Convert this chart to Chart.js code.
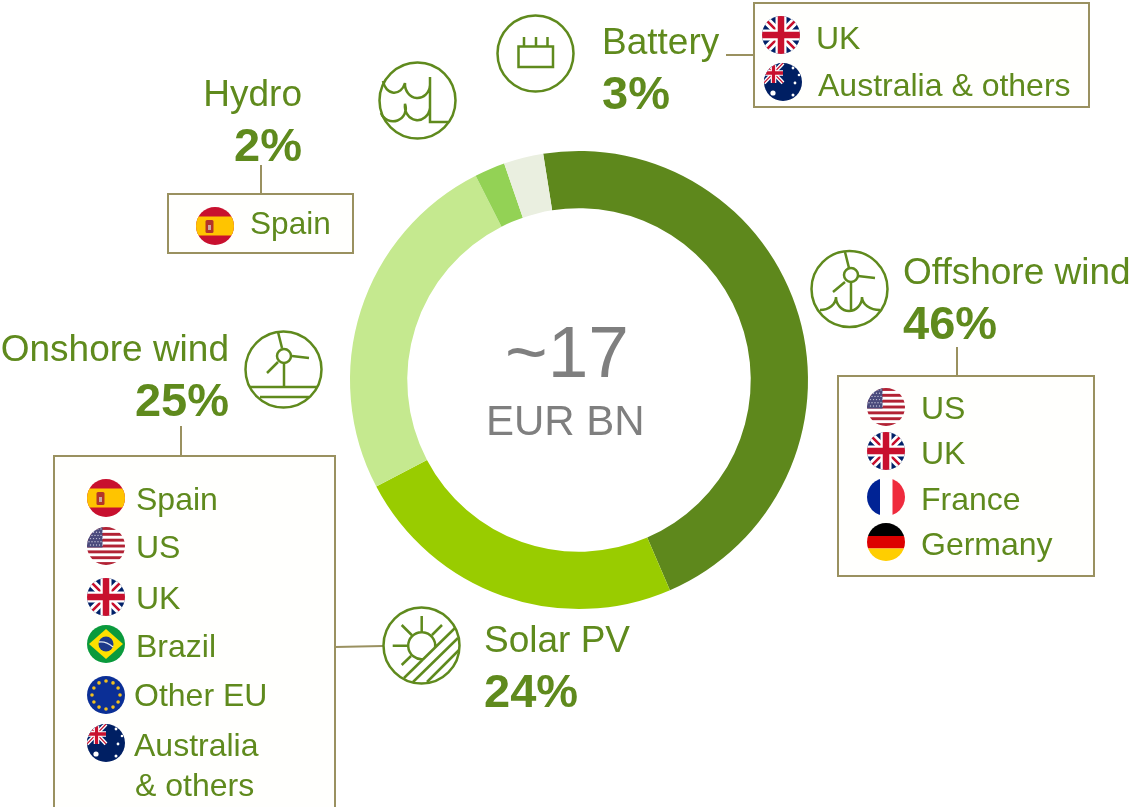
<!DOCTYPE html>
<html lang="en">
<head>
<meta charset="utf-8" />
<title>EUR 17bn by technology</title>
<script src="https://cdn.jsdelivr.net/npm/chart.js"></script>
<style>
	html, body { margin: 0; padding: 0; background: #fff; }
	#stage { position: relative; width: 1140px; height: 807px; overflow: hidden; font-family: "Liberation Sans", Arial, sans-serif; }
	#donut, #decor { position: absolute; left: 0; top: 0; }
	.t { position: absolute; line-height: 1; white-space: nowrap; color: #5f8a1d; }
	.b { font-weight: bold; }
	.g { color: #7f7f7f; }
</style>
</head>
<body>
<div id="stage">
	<canvas id="donut" width="1140" height="807"></canvas>
	<svg id="decor" width="1140" height="807" viewBox="0 0 1140 807"></svg>
</div>
<script>
var techNames = ["Offshore wind", "Solar PV", "Onshore wind", "Hydro", "Battery"];
var techShares = [46, 23.8, 25.25, 2.15, 2.8];
var techLabels = ["46%", "24%", "25%", "2%", "3%"];
var sliceColors = ["#5e881c", "#99cc00", "#c5e98f", "#93d255", "#eaefe0"];
var centerTotal = "~17";
var centerUnit = "EUR BN";

// countries in each box
var batteryCountries = ["UK", "Australia & others"];
var hydroCountries = ["Spain"];
var offshoreCountries = ["US", "UK", "France", "Germany"];
var onshoreCountries = ["Spain", "US", "UK", "Brazil", "Other EU", "Australia", "& others"];

new Chart(document.getElementById("donut"), {
	type: "doughnut",
	data: {
		labels: techNames,
		datasets: [{ data: techShares, backgroundColor: sliceColors, borderWidth: 0 }],
	},
	options: {
		responsive: false,
		animation: false,
		rotation: -9,
		cutout: "75%",
		// padding puts the ring at center 579,380 radius 229
		layout: { padding: { left: 350, right: 332, top: 151, bottom: 198 } },
		plugins: { legend: { display: false }, tooltip: { enabled: false } },
	},
});

var GREEN = "#5f8a1d";
var BOX = "#9a9160";
var STROKE = 2.5;

function unionJack() {
	return '<rect x="-19" y="-19" width="38" height="38" fill="#012169"/>' +
		'<path d="M-19-19L19 19M19-19L-19 19" stroke="#fff" stroke-width="8"/>' +
		'<path d="M-19-19L19 19M19-19L-19 19" stroke="#c8102e" stroke-width="2.6"/>' +
		'<path d="M0-19V19M-19 0H19" stroke="#fff" stroke-width="11"/>' +
		'<path d="M0-19V19M-19 0H19" stroke="#c8102e" stroke-width="6.5"/>';
}

function usFlag() {
	var s = '<rect x="-19" y="-19" width="38" height="38" fill="#fff"/>';
	for (var i = 0; i < 7; i++) {
		s += '<rect x="-19" y="' + (-19 + i * 5.85) + '" width="38" height="2.92" fill="#b22234"/>';
	}
	s += '<rect x="-19" y="-19" width="15.5" height="20.5" fill="#4a4a7c"/>';
	for (var r = 0; r < 6; r++) {
		for (var c = 0; c < 5; c++) {
			s += '<circle cx="' + (-17 + c * 3 + (r % 2) * 1.5) + '" cy="' + (-17 + r * 3.2) + '" r=".7" fill="#c4c4d8"/>';
		}
	}
	return s;
}

function euFlag() {
	var s = '<rect x="-19" y="-19" width="38" height="38" fill="#0b2f96"/>';
	for (var i = 0; i < 12; i++) {
		var a = i * Math.PI / 6;
		s += '<circle cx="' + (14 * Math.cos(a)).toFixed(1) + '" cy="' + (14 * Math.sin(a)).toFixed(1) + '" r="1.8" fill="#f2c01e"/>';
	}
	return s;
}

function ausFlag() {
	return '<rect x="-19" y="-19" width="38" height="38" fill="#001f63"/>' +
		'<g transform="translate(-9.5,-9) scale(.5,.52)">' + unionJack() + '</g>' +
		'<circle cx="-10" cy="11" r="2.6" fill="#fff"/>' +
		'<circle cx="10" cy="-14" r="1.4" fill="#fff"/><circle cx="12" cy="1" r="1.4" fill="#fff"/>' +
		'<circle cx="16" cy="-7" r="1.3" fill="#fff"/><circle cx="10" cy="13" r="1.5" fill="#fff"/>';
}

var flagArt = {
	UK: unionJack(),
	US: usFlag(),
	Spain: '<rect x="-19" y="-19" width="38" height="38" fill="#c8102e"/><rect x="-19" y="-9.5" width="38" height="19" fill="#ffc400"/>' +
		'<rect x="-9.5" y="-6" width="8" height="13" rx="1.5" fill="#b3342a"/><rect x="-7" y="-1" width="3" height="5" fill="#c9a9a0"/>',
	France: '<rect x="-19" y="-19" width="13" height="38" fill="#002395"/><rect x="-6" y="-19" width="12.5" height="38" fill="#fff"/><rect x="6.5" y="-19" width="13" height="38" fill="#ef2b3d"/>',
	Germany: '<rect x="-19" y="-19" width="38" height="13" fill="#000"/><rect x="-19" y="-6" width="38" height="12.5" fill="#dd0000"/><rect x="-19" y="6.5" width="38" height="13" fill="#ffce00"/>',
	Brazil: '<rect x="-19" y="-19" width="38" height="38" fill="#0a9a3c"/><path d="M0-15L17 0L0 15L-17 0Z" fill="#fedf00"/><circle r="7.5" fill="#1c3a8a"/><path d="M-7-2Q0-3 7 3" stroke="#dfe8f0" stroke-width="1.3" fill="none"/>',
	EU: euFlag(),
	Australia: ausFlag(),
};

var svg = "";
svg += '<defs><clipPath id="disc"><circle r="19"/></clipPath></defs>';

function flag(name, cx, cy) {
	svg += '<g transform="translate(' + cx + ',' + cy + ')" clip-path="url(#disc)">' + flagArt[name] + '</g>';
}
function box(x, y, w, h) {
	svg += '<rect x="' + x + '" y="' + y + '" width="' + w + '" height="' + h + '" fill="#fffffd" stroke="' + BOX + '" stroke-width="2"/>';
}
function conn(d) {
	svg += '<path d="' + d + '" fill="none" stroke="' + BOX + '" stroke-width="2"/>';
}
function icon(cx, cy, d) {
	svg += '<circle cx="' + cx + '" cy="' + cy + '" r="38" fill="#fff" stroke="' + GREEN + '" stroke-width="' + STROKE + '"/>';
	svg += '<path d="' + d + '" fill="none" stroke="' + GREEN + '" stroke-width="' + STROKE + '"/>';
}
function hub(cx, cy) {
	svg += '<circle cx="' + cx + '" cy="' + cy + '" r="7" fill="none" stroke="' + GREEN + '" stroke-width="' + STROKE + '"/>';
}

function text(str, x, base, size, cls, right) {
	var el = document.createElement("div");
	el.className = "t " + (cls || "");
	el.textContent = str;
	el.style.fontSize = size + "px";
	el.style.top = (base - 0.8465 * size) + "px";
	if (right) {
		el.style.right = (1140 - x) + "px";
	} else {
		el.style.left = x + "px";
	}
	document.getElementById("stage").appendChild(el);
}

// boxes and leader lines
conn("M726 55H754M261 165V194M957 347V376M181 426V456M335 647L383 646");
box(754, 3, 335, 104);
box(168, 194, 185, 59);
box(838, 376, 256, 200);
box(54, 456, 281, 370);

// icons
icon(535.5, 53.5, "M518.5 46.5H553V67H518.5ZM524 46V37M536 46V37M547.5 46V37");
icon(417.5, 100.5, "M383 81A11.5 15 0 0 0 405 83A12.5 14 0 0 0 430 85M381 113A12 12 0 0 0 405 104A12.5 14 0 0 0 430 108M430 77V122H448");
icon(849.5, 289, "M845 252L849 268M858 276L875 278M845 282L833 292M851 282V310M820 310A16 13 0 0 0 836 297A13 14 0 0 0 862 297A18 13 0 0 0 880 310");
hub(851, 275);
icon(283.5, 369.5, "M278 332L282 348M292 356L309 358M278 362L267 373M284 362V387M250 387H317M260 397H309");
hub(284, 356);
icon(421.5, 645.5, "M435 648A13.5 13.5 0 1 0 424 659M421.7 616V632M401.7 625L411.7 635M442 625L432 635M392.7 645.7H407.3M401.7 665L411 656M455 628L404 678M458 638L413 682M459 650L427 682");

// flags
flag("UK", 781, 35);
flag("Australia", 783, 82);
flag("Spain", 215, 226);
flag("US", 886, 407);
flag("UK", 886, 451);
flag("France", 886, 497);
flag("Germany", 886, 542);
flag("Spain", 106, 498);
flag("US", 106, 546);
flag("UK", 106, 597);
flag("Brazil", 106, 644);
flag("EU", 106, 695);
flag("Australia", 106, 743);

document.getElementById("decor").innerHTML = svg;

// center
text(centerTotal, 505, 377, 73, "g");
text(centerUnit, 486, 435.5, 42, "g");

// segment titles
text(techNames[3], 302, 106, 37, "", true);
text(techLabels[3], 302, 161, 47, "b", true);
text(techNames[4], 602, 54, 37);
text(techLabels[4], 602, 109, 47, "b");
text(techNames[0], 903, 284, 37);
text(techLabels[0], 903, 339, 47, "b");
text(techNames[2], 229, 361, 37, "", true);
text(techLabels[2], 229, 416, 47, "b", true);
text(techNames[1], 484, 652, 37);
text(techLabels[1], 484, 707, 47, "b");

// box labels
text(batteryCountries[0], 816, 49, 32);
text(batteryCountries[1], 818, 96, 32);
text(hydroCountries[0], 250, 235, 31.6);
var offBase = [419, 464, 510, 555];
offshoreCountries.forEach(function (c, i) { text(c, 921, offBase[i], 32); });
var onBase = [510, 558, 609, 657, 706, 756, 796];
var onLeft = [136, 136, 136, 136, 134, 134, 135];
onshoreCountries.forEach(function (c, i) { text(c, onLeft[i], onBase[i], 32); });
</script>
</body>
</html>
